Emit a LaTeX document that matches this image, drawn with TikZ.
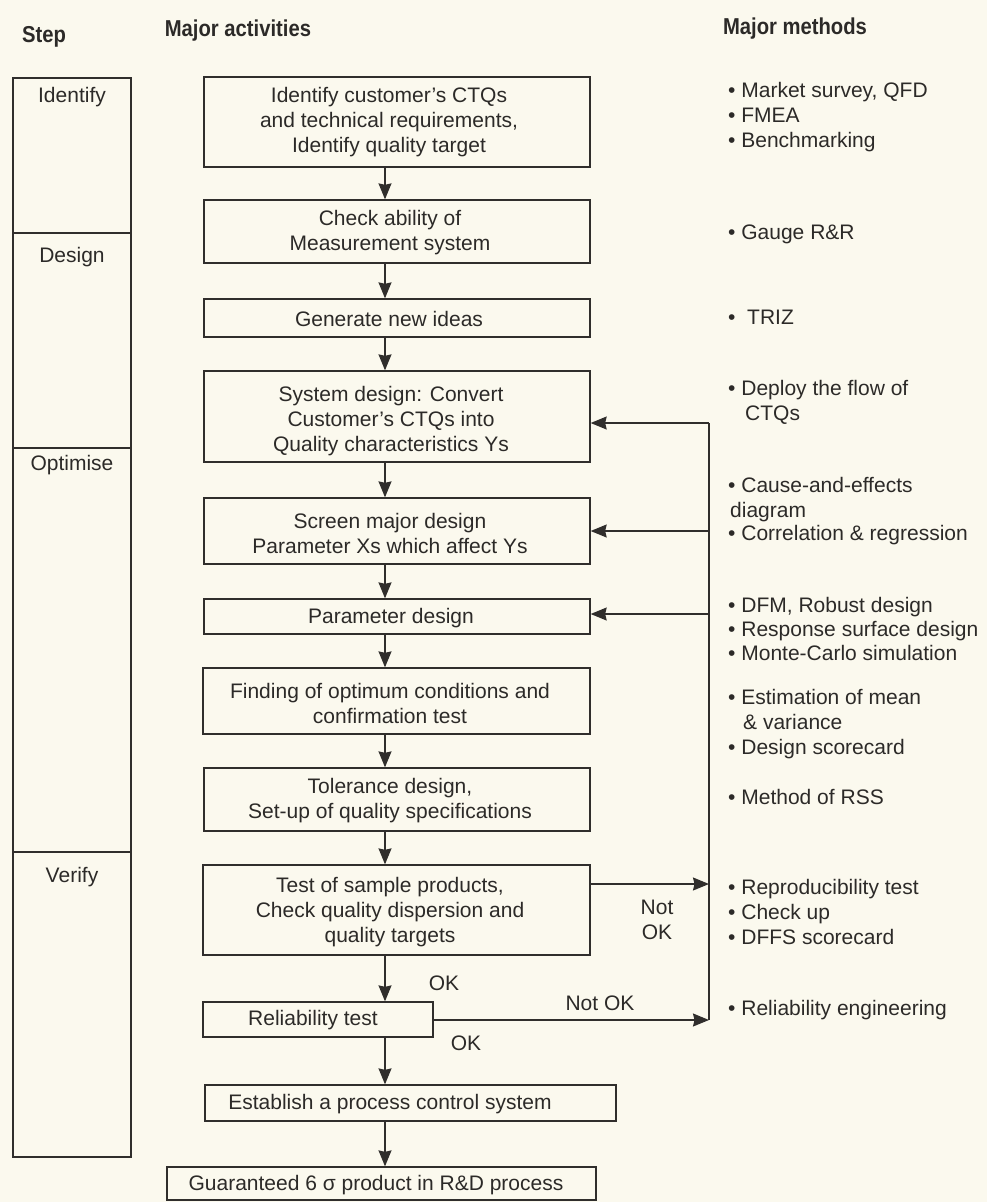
\documentclass[tikz,border=0pt]{standalone}
\usepackage{fontspec}
\setmainfont{Liberation Sans}
\newfontfamily\headfont{Liberation Sans}[FakeStretch=0.88]
\usetikzlibrary{arrows.meta}
\definecolor{bgc}{RGB}{251,249,238}
\definecolor{linec}{RGB}{48,46,44}
\definecolor{textc}{RGB}{44,42,40}

\begin{document}
\begin{tikzpicture}[x=1pt,y=-1pt,
  ink/.style={draw=linec, line width=1.3pt},
  box/.style={ink, inner sep=0pt},
  txt/.style={text=textc, inner sep=0pt, align=center, font=\fontsize{21}{25}\selectfont},
  meth/.style={text=textc, inner sep=0pt, anchor=base west, font=\fontsize{21}{25}\selectfont},
  steplbl/.style={text=textc, inner sep=0pt, font=\fontsize{21}{25}\selectfont},
  head/.style={text=textc, inner sep=0pt, font=\headfont\bfseries\fontsize{23}{27}\selectfont},
  arr/.style={draw=linec, line width=1.3pt, -{Stealth[length=16pt,width=13pt,inset=1.5pt]}},
  thin/.style={draw=linec, line width=1.1pt}
  ]
\fill[bgc] (0,0) rectangle (987,1202);
\useasboundingbox (0,0) rectangle (987,1202);

% column headings
\node[head] (hstep) at (44,37) {Step};
\node[head] (hact) at (238,31) {Major activities};
\node[head] (hmeth) at (795,29) {Major methods};

% step column
\node[box, minimum width=118pt, minimum height=1079pt] (stepcol) at (72,617.5) {};
\coordinate (d1) at (0,233);
\coordinate (d2) at (0,448);
\coordinate (d3) at (0,852);
\draw[ink] (stepcol.west |- d1) -- (stepcol.east |- d1);
\draw[ink] (stepcol.west |- d2) -- (stepcol.east |- d2);
\draw[ink] (stepcol.west |- d3) -- (stepcol.east |- d3);
\node[steplbl] (sIdentify) at (72,97) {Identify};
\node[steplbl] (sDesign) at (72,257) {Design};
\node[steplbl] (sOptimise) at (72,465) {Optimise};
\node[steplbl] (sVerify) at (72,877) {Verify};

% activity boxes
\node[box, minimum width=386pt, minimum height=90pt] (b1) at (397,122) {};
\node[box, minimum width=386pt, minimum height=63pt] (b2) at (397,231.5) {};
\node[box, minimum width=386pt, minimum height=38pt] (b3) at (397,318) {};
\node[box, minimum width=386pt, minimum height=91pt] (b4) at (397,416.5) {};
\node[box, minimum width=386pt, minimum height=66pt] (b5) at (397,531) {};
\node[box, minimum width=386pt, minimum height=35pt] (b6) at (397,616.5) {};
\node[box, minimum width=387pt, minimum height=66pt] (b7) at (396.5,701) {};
\node[box, minimum width=386pt, minimum height=63pt] (b8) at (397,799.5) {};
\node[box, minimum width=387pt, minimum height=90pt] (b9) at (396.5,910) {};
\node[box, minimum width=230pt, minimum height=35pt] (b10) at (318,1019.5) {};
\node[box, minimum width=411pt, minimum height=36pt] (b11) at (410.5,1103) {};
\node[box, minimum width=429pt, minimum height=33pt] (b12) at (381.5,1183.5) {};

% activity texts
\node[txt] (t1) at (389,122) {Identify customer's CTQs\\and technical requirements,\\Identify quality target};
\node[txt] (t2) at (390,233) {Check ability of\\Measurement system};
\node[txt] (t3) at (389,319) {Generate new ideas};
\node[txt] (t4) at (391,421) {System design: Convert\\Customer's CTQs into\\Quality characteristics Ys};
\node[txt] (t5) at (390,533) {Screen major design\\Parameter Xs which affect Ys};
\node[txt] (t6) at (391,618) {Parameter design};
\node[txt] (t7) at (390,703) {Finding of optimum conditions and\\confirmation test};
\node[txt] (t8) at (390,801) {Tolerance design,\\Set-up of quality specifications};
\node[txt] (t9) at (390,912) {Test of sample products,\\Check quality dispersion and\\quality targets};
\node[txt] (t10) at (313,1020) {Reliability test};
\node[txt] (t11) at (390,1104) {Establish a process control system};
\node[txt] (t12) at (376,1185) {Guaranteed 6 σ product in R\&D process};

% main flow
\coordinate (ax) at (385,0);
\draw[arr] (b1.south -| ax) -- (b2.north -| ax);
\draw[arr] (b2.south -| ax) -- (b3.north -| ax);
\draw[arr] (b3.south -| ax) -- (b4.north -| ax);
\draw[arr] (b4.south -| ax) -- (b5.north -| ax);
\draw[arr] (b5.south -| ax) -- (b6.north -| ax);
\draw[arr] (b6.south -| ax) -- (b7.north -| ax);
\draw[arr] (b7.south -| ax) -- (b8.north -| ax);
\draw[arr] (b8.south -| ax) -- (b9.north -| ax);
\draw[arr] (b9.south -| ax) -- (b10.north -| ax);
\draw[arr] (b10.south -| ax) -- (b11.north -| ax);
\draw[arr] (b11.south -| ax) -- (b12.north -| ax);

% feedback loop
\coordinate (f4) at (709,423);
\coordinate (f5) at (709,531);
\coordinate (f6) at (709,614);
\coordinate (f9) at (709,884);
\coordinate (f10) at (709,1020);
\draw[thin] (f4) -- (f10);
\draw[arr] (f4) -- (f4 -| b4.east);
\draw[arr] (f5) -- (f5 -| b5.east);
\draw[arr] (f6) -- (f6 -| b6.east);
\draw[arr] (b9.east |- f9) -- (f9);
\draw[arr] (b10.east |- f10) -- (f10);

% decision labels
\node[txt] (notok1) at (657,920) {Not\\OK};
\node[txt] (notok2) at (600,1003) {Not OK};
\node[txt] (ok1) at (444,983) {OK};
\node[txt] (ok2) at (466,1043) {OK};

% methods
\node[meth] (m1) at (728,97.5) {\textbullet\ Market survey, QFD};
\node[meth] (m2) at (728,122.5) {\textbullet\ FMEA};
\node[meth] (m3) at (728,147.5) {\textbullet\ Benchmarking};
\node[meth] (m4) at (728,239.5) {\textbullet\ Gauge R\&R};
\node[meth] (m5) at (728,324.5) {\textbullet\ \ TRIZ};
\node[meth] (m6) at (728,395.5) {\textbullet\ Deploy the flow of};
\node[meth] (m7) at (745,420.5) {CTQs};
\node[meth] (m8) at (728,492.5) {\textbullet\ Cause-and-effects};
\node[meth] (m9) at (730,517.5) {diagram};
\node[meth] (m10) at (728,540.5) {\textbullet\ Correlation \& regression};
\node[meth] (m11) at (728,612.5) {\textbullet\ DFM, Robust design};
\node[meth] (m12) at (728,636.5) {\textbullet\ Response surface design};
\node[meth] (m13) at (728,660.5) {\textbullet\ Monte-Carlo simulation};
\node[meth] (m14) at (728,704.5) {\textbullet\ Estimation of mean};
\node[meth] (m15) at (743,729.5) {\& variance};
\node[meth] (m16) at (728,754.5) {\textbullet\ Design scorecard};
\node[meth] (m17) at (728,804.5) {\textbullet\ Method of RSS};
\node[meth] (m18) at (728,894.5) {\textbullet\ Reproducibility test};
\node[meth] (m19) at (728,919.5) {\textbullet\ Check up};
\node[meth] (m20) at (728,944.5) {\textbullet\ DFFS scorecard};
\node[meth] (m21) at (728,1015.5) {\textbullet\ Reliability engineering};
\end{tikzpicture}
\end{document}
